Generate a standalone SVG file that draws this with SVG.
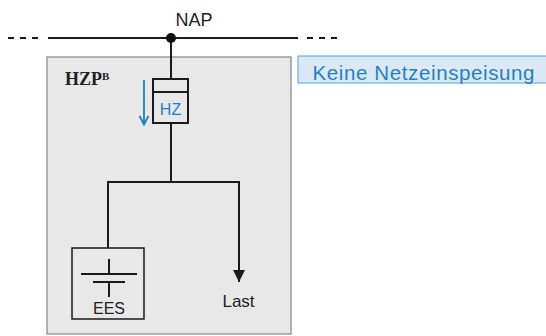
<svg xmlns="http://www.w3.org/2000/svg" width="546" height="336" viewBox="0 0 546 336">
<defs>
<style>
.ln{stroke:#1a1a1a;stroke-width:2;fill:none}
.dash{stroke:#1a1a1a;stroke-width:2;fill:none;stroke-dasharray:6 6}
.sans{font-family:"Liberation Sans",Arial,sans-serif}
.blue{fill:#1f7fcf}
</style>
<marker id="ah" markerWidth="12" markerHeight="12" viewBox="0 0 12 12" refX="12" refY="6" orient="auto" markerUnits="userSpaceOnUse">
<path d="M0,0 L12,6 L0,12 Z" fill="#1a1a1a"/>
</marker>
</defs>
<rect width="546" height="336" fill="#ffffff"/>
<g id="hzp">
<rect x="47" y="57" width="244" height="277" fill="#e8e8e8" stroke="#9a9a9a" stroke-width="1.5"/>
<text x="65" y="84.5" font-family="'Liberation Serif','Times New Roman',serif" font-weight="bold" font-size="18" fill="#222">HZP<tspan font-size="11" dy="-5">B</tspan></text>
</g>
<g id="connectors">
<line class="dash" x1="8" y1="38" x2="42" y2="38"/>
<line class="ln" x1="48" y1="38" x2="298" y2="38"/>
<line class="dash" x1="307" y1="38" x2="340" y2="38"/>
<line class="ln" x1="171" y1="38" x2="171" y2="79"/>
<line class="ln" x1="171" y1="124" x2="171" y2="182"/>
<polyline class="ln" points="108,248 108,182 239,182 239,270"/>
<line class="ln" x1="239" y1="265" x2="239" y2="282" marker-end="url(#ah)"/>
</g>
<g id="nap">
<circle cx="171" cy="38" r="5" fill="#111"/>
<text x="194" y="26" text-anchor="middle" class="sans" font-size="18" fill="#222">NAP</text>
</g>
<g id="hz">
<rect x="153" y="79" width="35" height="44" fill="#e8e8e8" stroke="#1a1a1a" stroke-width="2"/>
<line class="ln" x1="153" y1="92" x2="188" y2="92"/>
<text x="170.5" y="115" text-anchor="middle" class="sans blue" font-size="16">HZ</text>
<line x1="144" y1="80" x2="144" y2="124" stroke="#1f7fcf" stroke-width="1.8"/>
<polyline points="139.5,116 144,124.5 148.5,116" fill="none" stroke="#1f7fcf" stroke-width="1.8"/>
</g>
<g id="ees">
<rect x="72" y="248" width="72" height="71" fill="#e8e8e8" stroke="#1a1a1a" stroke-width="1.5"/>
<line class="ln" x1="109" y1="259" x2="109" y2="273" stroke-width="1.5"/>
<line class="ln" x1="81" y1="274" x2="137" y2="274" stroke-width="1.5"/>
<line class="ln" x1="93" y1="282" x2="125" y2="282" stroke-width="1.5"/>
<line class="ln" x1="109" y1="282" x2="109" y2="297" stroke-width="1.5"/>
<text x="109" y="314" text-anchor="middle" class="sans" font-size="16" fill="#222">EES</text>
</g>
<g id="last">
<text x="238.5" y="307" text-anchor="middle" class="sans" font-size="17" fill="#222">Last</text>
</g>
<g id="hint">
<rect x="298" y="56" width="252" height="27" fill="#dbe9f7" stroke="#6aaee6" stroke-width="1.2"/>
<text x="312.5" y="79.5" class="sans blue" font-size="20.5" textLength="222" lengthAdjust="spacing">Keine Netzeinspeisung</text>
</g>
</svg>
